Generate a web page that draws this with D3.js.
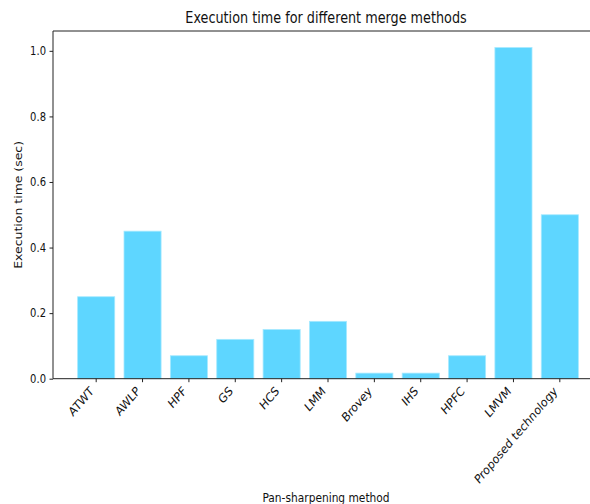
<!DOCTYPE html>
<html>
<head>
<meta charset="utf-8">
<script src="https://cdn.jsdelivr.net/npm/d3@7"></script>
<style>
  html, body { margin: 0; padding: 0; background: #fff; }
  svg { display: block; font-family: "DejaVu Sans", sans-serif; }
</style>
</head>
<body>
<svg id="chart" width="590" height="504"></svg>
<script>
const categories = ["ATWT", "AWLP", "HPF", "GS", "HCS", "LMM", "Brovey", "IHS", "HPFC", "LMVM", "Proposed technology"];
const values = [0.25, 0.45, 0.07, 0.12, 0.15, 0.175, 0.017, 0.017, 0.07, 1.01, 0.5];
const yTicks = [0.0, 0.2, 0.4, 0.6, 0.8, 1.0];
const title = "Execution time for different merge methods";
const xLabel = "Pan-sharpening method";
const yLabel = "Execution time (sec)";

const svg = d3.select("#chart");
const SY = 1.17; // vertical stretch of the reference picture
const axLeft = 53, axTop = 31, axBottom = 378.7, axRight = 600;

const x = d3.scaleBand()
  .domain(categories)
  .range([73, 583])
  .paddingInner(0.2)
  .paddingOuter(0.1);

const yMax = d3.max(values) * 1.05;
const y = d3.scaleLinear().domain([0, yMax]).range([axBottom, axTop]);

// bars
svg.append("g").selectAll("rect")
  .data(categories)
  .join("rect")
  .attr("x", d => x(d))
  .attr("width", x.bandwidth())
  .attr("y", (d, i) => y(values[i]))
  .attr("height", (d, i) => y(0) - y(values[i]))
  .attr("fill", "#5ED6FF")
  .attr("stroke", "#A6E9FF")
  .attr("stroke-width", 0.8);

// spines
svg.append("line").attr("x1", axLeft).attr("x2", axLeft).attr("y1", axTop).attr("y2", axBottom)
  .attr("stroke", "#222").attr("stroke-width", 1);
svg.append("line").attr("x1", axLeft).attr("x2", axRight).attr("y1", axTop).attr("y2", axTop)
  .attr("stroke", "#222").attr("stroke-width", 1);
svg.append("line").attr("x1", axLeft).attr("x2", axRight).attr("y1", axBottom).attr("y2", axBottom)
  .attr("stroke", "#222").attr("stroke-width", 1);

// y axis
const yAxis = d3.axisLeft(y).tickValues(yTicks).tickFormat(d3.format(".1f")).tickSize(3.5).tickPadding(3.5);
const gy = svg.append("g").attr("transform", `translate(${axLeft},0)`).call(yAxis);
gy.select(".domain").remove();
gy.selectAll("line").attr("stroke", "#222");
gy.selectAll("text")
  .attr("font-size", 10).attr("fill", "#111").attr("font-family", "DejaVu Sans")
  .attr("x", 0).attr("dy", "0.32em")
  .attr("transform", `translate(-7,0) scale(1,${SY})`);

// x axis
const xAxis = d3.axisBottom(x).tickSize(3.5).tickPadding(3.5);
const gx = svg.append("g").attr("transform", `translate(0,${axBottom})`).call(xAxis);
gx.select(".domain").remove();
gx.selectAll("line").attr("stroke", "#222");
gx.selectAll("text")
  .attr("font-size", 10.7).attr("fill", "#111").attr("font-family", "DejaVu Sans")
  .attr("text-anchor", "end")
  .attr("dy", 0)
  .attr("y", 0)
  .attr("transform", `translate(-1.8,13.3) scale(1,${SY}) rotate(-45)`);

// title
svg.append("text").attr("transform", `translate(326,23) scale(1,${SY})`).attr("text-anchor", "middle")
  .attr("font-size", 12.8).attr("fill", "#111").text(title);

// axis labels
svg.append("text").attr("transform", `translate(326,502) scale(1,${SY})`).attr("text-anchor", "middle")
  .attr("font-size", 10.65).attr("fill", "#111").text(xLabel);
svg.append("text").attr("transform", `translate(22,${(axTop + axBottom) / 2}) scale(1,${SY}) rotate(-90)`)
  .attr("text-anchor", "middle").attr("font-size", 10.65).attr("fill", "#111").text(yLabel);
</script>
</body>
</html>
